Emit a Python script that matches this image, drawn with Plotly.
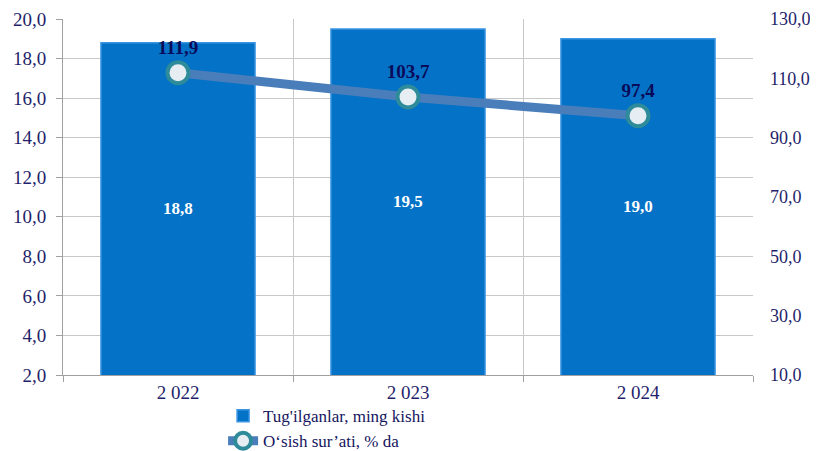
import plotly.graph_objects as go

years = ["2 022", "2 023", "2 024"]
births = [18.8, 19.5, 19.0]
growth = [111.9, 103.7, 97.4]
births_labels = ["18,8", "19,5", "19,0"]
growth_labels = ["111,9", "103,7", "97,4"]
y_left_min, y_left_max = 2, 20

navy = "#1F1F6B"
font_family = "Liberation Serif"

fig = go.Figure()
fig.add_trace(go.Bar(
    x=years, y=births, name="Tug'ilganlar, ming kishi",
    marker=dict(color="#0472C6", line=dict(color="#3A95E2", width=1.5)),
    width=0.67, yaxis="y",
))

fig.add_trace(go.Scatter(
    x=years, y=growth, name="O‘sish sur’ati, % da", yaxis="y2",
    mode="lines+markers+text",
    line=dict(color="#4A7EBB", width=9),
    marker=dict(size=21, color="#E6EEF4", line=dict(color="#2E8B9A", width=4)),
    text=growth_labels, textposition="top center",
    textfont=dict(color="#0A0A5A", size=19, family=font_family, weight="bold"),
))

# labels at the middle of the visible part of each bar
for yr, v, lab in zip(years, births, births_labels):
    fig.add_annotation(
        x=yr, y=(v + y_left_min) / 2, xref="x", yref="y", text=lab,
        showarrow=False,
        font=dict(color="white", size=17, family=font_family, weight="bold"),
    )

fig.update_layout(
    width=810, height=443,
    margin=dict(l=55, r=65, t=11, b=76, autoexpand=False),
    paper_bgcolor="white", plot_bgcolor="white",
    separators=", ",
    font=dict(family=font_family, color=navy, size=19),
    showlegend=True,
    legend=dict(orientation="v", x=0.232, y=-0.065, xanchor="left", yanchor="top",
                font=dict(size=17, color="#151560", family=font_family),
                tracegroupgap=0, itemwidth=30, bgcolor="rgba(0,0,0,0)"),
    xaxis=dict(type="category", tickson="boundaries", showgrid=True,
               gridcolor="#C8C8C8", gridwidth=1, ticks="outside", ticklen=6,
               tickcolor="#A0A0A0", showline=True, linecolor="#A0A0A0",
               automargin=False,
               tickfont=dict(size=19, color=navy, family=font_family)),
    yaxis=dict(range=[y_left_min, y_left_max], dtick=2, tickformat=".1f", showgrid=True,
               gridcolor="#C8C8C8", showline=True, linecolor="#A0A0A0",
               ticks="outside", ticklen=6, tickcolor="#A0A0A0", automargin=False,
               ticklabelstandoff=6,
               tickfont=dict(size=19, color=navy, family=font_family), zeroline=False),
    yaxis2=dict(range=[10, 130], tickvals=[10, 30, 50, 70, 90, 110, 130],
                tickformat=".1f", overlaying="y", automargin=False,
                side="right", showgrid=False, showline=False, zeroline=False,
                ticks="", ticklabelstandoff=16,
                tickfont=dict(size=18, color=navy, family=font_family)),
)

fig.write_html("out.html")
